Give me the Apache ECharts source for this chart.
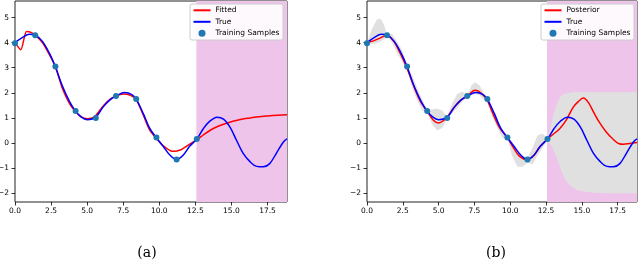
<!DOCTYPE html>
<html><head><meta charset="utf-8">
<script src="https://cdn.jsdelivr.net/npm/echarts@6/dist/echarts.min.js"></script>
<style>html,body{margin:0;padding:0;background:#fff}#c{width:640px;height:261px}</style>
</head><body><div id="c"></div>
<script>
const xTicks = [0, 2.5, 5, 7.5, 10, 12.5, 15, 17.5];
const yTicks = [-2, -1, 0, 1, 2, 3, 4, 5];
const xMax = 18.85;
const trainEnd = 12.57;

const trueX = [0,0.5,1.0,1.4,1.9,2.4,2.8,3.3,3.8,4.2,4.6,5.0,5.6,6.1,6.6,7.0,7.6,8.1,8.4,8.9,9.35,9.8,10.3,10.75,11.2,11.65,12.1,12.6,13.05,13.5,14.0,14.45,14.9,15.35,15.8,16.3,16.75,17.2,17.65,18.1,18.6,18.85];
const trueY = [4.0,4.2,4.33,4.3,4.05,3.56,3.04,2.25,1.63,1.27,1.03,0.93,1.03,1.43,1.73,1.87,2.01,1.93,1.75,1.16,0.57,0.21,-0.16,-0.49,-0.66,-0.49,-0.13,0.16,0.57,0.87,1.03,0.95,0.63,0.11,-0.40,-0.75,-0.93,-0.95,-0.82,-0.42,0.04,0.17];

const fitX = [0,0.4,0.8,1.15,1.45,1.9,2.4,2.8,3.3,3.8,4.2,4.6,5.0,5.5,6.1,6.6,7.0,7.5,8.0,8.4,8.9,9.35,9.8,10.3,10.75,11.0,11.45,11.9,12.6,13.05,13.5,14.0,14.5,15.1,15.7,16.3,16.9,17.5,18.2,18.85];
const fitY = [4.0,3.72,4.44,4.40,4.28,4.0,3.5,3.04,2.15,1.55,1.25,1.04,0.97,1.04,1.47,1.75,1.88,1.95,1.9,1.73,1.1,0.5,0.18,-0.12,-0.3,-0.33,-0.28,-0.12,0.14,0.32,0.5,0.65,0.76,0.87,0.95,1.0,1.05,1.08,1.11,1.13];

const postX = [0,0.45,0.9,1.4,1.85,2.3,2.75,3.25,3.7,4.2,4.65,5.0,5.55,6.0,6.5,7.0,7.55,7.9,8.35,8.8,9.3,9.8,10.2,10.65,11.2,11.6,12.05,12.6,13.0,13.45,13.9,14.4,14.75,15.1,15.45,15.8,16.25,16.7,17.15,17.6,17.9,18.35,18.85];
const postY = [4.0,4.07,4.18,4.3,4.07,3.6,3.04,2.29,1.69,1.27,0.9,0.8,1.0,1.36,1.69,1.87,2.1,2.02,1.75,1.16,0.57,0.22,-0.16,-0.53,-0.66,-0.53,-0.16,0.16,0.35,0.57,0.9,1.43,1.65,1.79,1.62,1.25,0.8,0.44,0.17,-0.03,-0.05,-0.02,0.02];

const bandX  = [0,0.35,0.7,0.95,1.2,1.4,1.75,2.1,2.45,2.8,3.15,3.5,3.85,4.2,4.55,4.9,5.25,5.6,5.95,6.3,6.65,7.0,7.3,7.55,7.85,8.1,8.4,8.75,9.1,9.45,9.8,10.15,10.5,10.85,11.2,11.55,11.9,12.25,12.6,12.8,13.0,13.25,13.5,13.75,14.0,14.3,14.7,15.2,16.0,17.0,18.0,18.85];
const bandHi = [4.0,4.55,4.93,4.95,4.7,4.3,4.35,4.05,3.7,3.05,2.7,2.2,1.75,1.32,1.35,1.38,1.3,1.05,1.6,1.95,2.05,1.9,2.3,2.42,2.3,2.05,1.77,1.4,0.95,0.55,0.24,0.05,-0.35,-0.5,-0.6,-0.2,0.3,0.38,0.2,0.55,1.1,1.55,1.85,1.95,1.98,2.02,2.03,2.03,2.02,2.02,2.02,2.02];
const bandLo = [4.0,3.95,3.98,4.05,4.15,4.28,4.0,3.6,3.25,2.95,2.2,1.7,1.3,1.22,0.75,0.5,0.6,0.97,1.2,1.4,1.65,1.84,1.9,1.95,1.9,1.75,1.72,1.05,0.6,0.2,0.2,-0.55,-0.95,-0.95,-0.8,-0.85,-0.5,-0.2,0.12,-0.05,-0.25,-0.6,-1.0,-1.35,-1.58,-1.75,-1.88,-1.94,-1.98,-2.0,-2.0,-2.0];

const sampX = [0,1.4,2.8,4.2,5.6,7.0,8.4,9.8,11.2,12.6];
const sampY = [3.98,4.3,3.05,1.28,1.0,1.87,1.75,0.22,-0.66,0.16];

const pairs = (xs, ys) => xs.map((x, i) => [x, ys[i]]);
const FONT = 'DejaVu Sans';

function xAxisFor(i) {
  return {
    type: 'value', gridIndex: i, min: 0, max: xMax,
    axisLine: {show: false, onZero: false}, splitLine: {show: false},
    axisTick: {show: true, customValues: xTicks, length: 3.5, inside: false, lineStyle: {color: '#000', width: 0.8}},
    axisLabel: {customValues: xTicks, formatter: v => v.toFixed(1), fontSize: 7.5, fontFamily: FONT, color: '#000', margin: 5}
  };
}
function yAxisFor(i) {
  return {
    type: 'value', gridIndex: i, min: -2.35, max: 5.66,
    axisLine: {show: false, onZero: false}, splitLine: {show: false},
    axisTick: {show: true, customValues: yTicks, length: 3.5, inside: false, lineStyle: {color: '#000', width: 0.8}},
    axisLabel: {customValues: yTicks, formatter: v => String(v).replace('-', '\u2212'), fontSize: 7.5, fontFamily: FONT, color: '#000', margin: 6}
  };
}
function lineSeries(name, xs, ys, color, gi, extra) {
  return Object.assign({
    name, type: 'line', xAxisIndex: gi, yAxisIndex: gi, data: pairs(xs, ys),
    symbol: 'none', showSymbol: false, smooth: 0.35, z: 3,
    lineStyle: {color, width: 1.5}, itemStyle: {color}
  }, extra || {});
}
function samples(gi) {
  return {
    name: 'Training Samples', type: 'scatter', xAxisIndex: gi, yAxisIndex: gi,
    data: pairs(sampX, sampY), symbol: 'circle', symbolSize: 6, z: 4,
    itemStyle: {color: '#1f77b4', opacity: 1}
  };
}
const pinkArea = {
  silent: true, itemStyle: {color: '#efc4ea'},
  data: [[{xAxis: trainEnd}, {xAxis: xMax}]]
};
function legendFor(left, names) {
  return {
    left, top: 4, orient: 'vertical', selectedMode: false,
    data: [
      {name: names[0], itemStyle: {opacity: 0}},
      {name: names[1], itemStyle: {opacity: 0}},
      {name: names[2]}
    ],
    itemWidth: 17, itemHeight: 7, itemGap: 3.5,
    padding: [2.3, 3.5, 2.7, 2.5],
    backgroundColor: 'rgba(255,255,255,0.9)', borderColor: '#cccccc', borderWidth: 1, borderRadius: 2,
    textStyle: {fontSize: 7.5, fontFamily: FONT, color: '#000', lineHeight: 8, padding: [0, 0, 0, 0]}
  };
}

const chart = echarts.init(document.getElementById('c'), null, {renderer: 'canvas'});
chart.setOption({
  animation: false,
  backgroundColor: '#fff',
  grid: [
    {left: 15, right: 353, top: 1, bottom: 59, show: true, borderColor: '#222', borderWidth: 1, backgroundColor: 'transparent', outerBoundsMode: 'none'},
    {left: 367, right: 3, top: 1, bottom: 59, show: true, borderColor: '#222', borderWidth: 1, backgroundColor: 'transparent', outerBoundsMode: 'none'}
  ],
  xAxis: [xAxisFor(0), xAxisFor(1)],
  yAxis: [yAxisFor(0), yAxisFor(1)],
  legend: [
    legendFor(190, ['Fitted', 'True', 'Training Samples']),
    legendFor(541, ['Posterior', 'True', 'Training Samples'])
  ],
  series: [
    lineSeries('Fitted', fitX, fitY, '#ff0000', 0, {markArea: pinkArea, smooth: 0.25}),
    lineSeries('True', trueX, trueY, '#0000ff', 0),
    samples(0),
    {
      name: 'band', type: 'custom', xAxisIndex: 1, yAxisIndex: 1, z: 2, silent: true,
      data: bandX.map((x, i) => [x, bandLo[i], bandHi[i]]),
      encode: {x: 0, y: [1, 2]},
      markArea: pinkArea,
      renderItem: function (params, api) {
        if (params.dataIndex !== 0) return null;
        const pts = [];
        for (let i = 0; i < bandX.length; i++) pts.push(api.coord([bandX[i], bandHi[i]]));
        for (let i = bandX.length - 1; i >= 0; i--) pts.push(api.coord([bandX[i], bandLo[i]]));
        return {type: 'polygon', shape: {points: pts}, style: {fill: '#e0e0e0', stroke: null}};
      }
    },
    lineSeries('Posterior', postX, postY, '#ff0000', 1),
    lineSeries('True', trueX, trueY, '#0000ff', 1),
    samples(1)
  ],
  graphic: [
    {type: 'text', x: 147, y: 253, style: {text: '(a)', fontSize: 14, fontFamily: 'DejaVu Serif', fill: '#000', align: 'center', verticalAlign: 'middle'}},
    {type: 'text', x: 496, y: 253, style: {text: '(b)', fontSize: 14, fontFamily: 'DejaVu Serif', fill: '#000', align: 'center', verticalAlign: 'middle'}}
  ]
});
</script></body></html>
